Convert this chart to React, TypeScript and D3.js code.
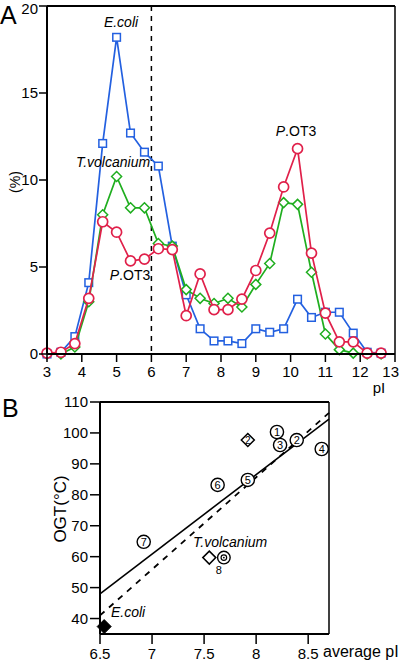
import React from "react";
import * as d3 from "d3";

// ---- Panel A data ----
const pIValues = [3.0, 3.4, 3.8, 4.2, 4.6, 5.0, 5.4, 5.8, 6.2, 6.6, 7.0, 7.4, 7.8, 8.2, 8.6, 9.0, 9.4, 9.8, 10.2, 10.6, 11.0, 11.4, 11.8, 12.2, 12.6];
const ecoli = [0, 0.1, 1.0, 4.1, 12.1, 18.2, 12.7, 11.6, 10.8, 6.2, 3.4, 1.45, 0.75, 0.75, 0.6, 1.45, 1.25, 1.45, 3.15, 2.1, 2.4, 2.4, 1.2, 0.1, 0.05];
const tvolcanium = [0, 0, 0.4, 3.0, 8.0, 10.2, 8.4, 8.4, 6.35, 6.2, 3.7, 3.2, 2.9, 3.2, 2.7, 4.0, 5.2, 8.7, 8.6, 4.7, 1.15, 0.25, 0.05, 0, 0];
const pot3 = [0.05, 0.1, 0.6, 3.2, 7.6, 7.0, 5.35, 5.45, 6.05, 6.0, 2.2, 4.6, 2.55, 2.55, 3.15, 4.8, 6.95, 9.6, 11.8, 5.8, 2.35, 0.7, 0.7, 0.05, 0.05];
const aXTicks = [3, 4, 5, 6, 7, 8, 9, 10, 11, 12, 13];
const aYTicks = [0, 5, 10, 15, 20];

// ---- Panel B data ----
const circleLabels = ["1", "2", "3", "4", "5", "6", "7"];
const circleX = [8.2, 8.39, 8.23, 8.63, 7.92, 7.63, 6.92];
const circleY = [100.3, 97.7, 96.1, 94.8, 84.8, 83.2, 64.8];
const diamond2 = [7.92, 97.7];
const tvolcDiamond = [7.55, 59.7];
const dotCircle8 = [7.69, 59.7];
const ecoliPoint = [6.54, 37.4];
const solidFit = [6.5, 48, 8.7, 104.5];
const dashedFit = [6.5, 41, 8.7, 106.5];
const bXTicks = [6.5, 7, 7.5, 8, 8.5];
const bYTicks = [40, 50, 60, 70, 80, 90, 100, 110];

const BLUE = "#2360e0";
const GREEN = "#1fae1f";
const RED = "#e0204a";
const FONT = "'Liberation Sans', Arial, Helvetica, sans-serif";

export default function App() {
  // Panel A scales
  const ax = d3.scaleLinear().domain([3, 13]).range([47, 395]);
  const ay = d3.scaleLinear().domain([0, 20]).range([354, 6]);
  const mkLine = (vals: number[]) =>
    d3.line<number>().x((_, i) => ax(pIValues[i])).y((v) => ay(v))(vals) || "";

  // Panel B scales
  const bx = d3.scaleLinear().domain([6.5, 8.7]).range([100, 329]);
  const by = d3.scaleLinear().domain([35, 110]).range([634, 402]);

  const diamondPath = (cx: number, cy: number, r: number) =>
    `M${cx},${cy - r}L${cx + r},${cy}L${cx},${cy + r}L${cx - r},${cy}Z`;

  return (
    <svg width={400} height={663} style={{ position: "absolute", left: 0, top: 0, background: "#fff" }} fontFamily={FONT}>
      {/* ===== Panel A ===== */}
      <text x={0} y={24} fontSize={25}>A</text>
      {/* dashed pI=6 line */}
      <line x1={ax(6)} x2={ax(6)} y1={ay(20)} y2={ay(0)} stroke="#000" strokeWidth={1.5} strokeDasharray="5,5" />
      {/* series */}
      <path d={mkLine(ecoli)} fill="none" stroke={BLUE} strokeWidth={1.7} />
      {ecoli.map((v, i) => (
        <rect key={"b" + i} x={ax(pIValues[i]) - 3.8} y={ay(v) - 3.8} width={7.6} height={7.6} fill="#fff" stroke={BLUE} strokeWidth={1.5} />
      ))}
      <path d={mkLine(tvolcanium)} fill="none" stroke={GREEN} strokeWidth={1.7} />
      {tvolcanium.map((v, i) => (
        <path key={"g" + i} d={diamondPath(ax(pIValues[i]), ay(v), 5)} fill="#fff" stroke={GREEN} strokeWidth={1.5} />
      ))}
      <path d={mkLine(pot3)} fill="none" stroke={RED} strokeWidth={1.7} />
      {pot3.map((v, i) => (
        <circle key={"r" + i} cx={ax(pIValues[i])} cy={ay(v)} r={5} fill="#fff" stroke={RED} strokeWidth={1.7} />
      ))}
      {/* frame & axes */}
      <line x1={ax(3)} x2={ax(13)} y1={ay(20)} y2={ay(20)} stroke="#000" strokeWidth={2} />
      <line x1={ax(13)} x2={ax(13)} y1={ay(20)} y2={ay(0)} stroke="#000" strokeWidth={1.5} />
      <line x1={ax(3)} x2={ax(13)} y1={ay(0)} y2={ay(0)} stroke="#000" strokeWidth={2} />
      <line x1={ax(3)} x2={ax(3)} y1={ay(20)} y2={ay(0)} stroke="#000" strokeWidth={2} />
      {aYTicks.map((t) => (
        <g key={"ay" + t}>
          <line x1={ax(3) - 8} x2={ax(3)} y1={ay(t)} y2={ay(t)} stroke="#000" strokeWidth={1.5} />
          <text x={ax(3) - 9} y={Math.max(ay(t) + 5, 14)} fontSize={15} textAnchor="end">{t}</text>
        </g>
      ))}
      {aXTicks.map((t) => (
        <g key={"ax" + t}>
          <line x1={ax(t)} x2={ax(t)} y1={ay(0)} y2={ay(0) + 8} stroke="#000" strokeWidth={1.5} />
          <text x={t === 13 ? 399 : ax(t)} y={377} fontSize={15} textAnchor={t === 13 ? "end" : "middle"}>{t}</text>
        </g>
      ))}
      <text x={379} y={393} fontSize={15} textAnchor="middle">pI</text>
      <text transform={`translate(20,182) rotate(-90)`} fontSize={14} textAnchor="middle">(%)</text>
      {/* labels */}
      <text x={121} y={27} fontSize={14} fontStyle="italic" textAnchor="middle">E.coli</text>
      <text x={113} y={167} fontSize={14} fontStyle="italic" textAnchor="middle">T.volcanium</text>
      <text x={130} y={280} fontSize={14} textAnchor="middle"><tspan fontStyle="italic">P</tspan>.OT3</text>
      <text x={296} y={136} fontSize={14} textAnchor="middle"><tspan fontStyle="italic">P</tspan>.OT3</text>

      {/* ===== Panel B ===== */}
      <text x={2} y={417} fontSize={25}>B</text>
      {/* fit lines */}
      <line x1={bx(solidFit[0])} y1={by(solidFit[1])} x2={bx(solidFit[2])} y2={by(solidFit[3])} stroke="#000" strokeWidth={1.6} />
      <line x1={bx(dashedFit[0])} y1={by(dashedFit[1])} x2={bx(dashedFit[2])} y2={by(dashedFit[3])} stroke="#000" strokeWidth={1.8} strokeDasharray="6,6" />
      {/* numbered circles */}
      {circleLabels.map((lab, i) => (
        <g key={"c" + i}>
          <circle cx={bx(circleX[i])} cy={by(circleY[i])} r={6.6} fill="#fff" stroke="#000" strokeWidth={1.4} />
          <text x={bx(circleX[i])} y={by(circleY[i]) + 4} fontSize={11} textAnchor="middle">{lab}</text>
        </g>
      ))}
      {/* diamond with 2 */}
      <path d={diamondPath(bx(diamond2[0]), by(diamond2[1]), 6.5)} fill="#fff" stroke="#000" strokeWidth={1.5} />
      <text x={bx(diamond2[0])} y={by(diamond2[1]) + 3.5} fontSize={10} textAnchor="middle">2</text>
      {/* T. volcanium */}
      <path d={diamondPath(bx(tvolcDiamond[0]), by(tvolcDiamond[1]), 6.5)} fill="#fff" stroke="#000" strokeWidth={1.5} />
      <circle cx={bx(dotCircle8[0])} cy={by(dotCircle8[1])} r={6.3} fill="#fff" stroke="#000" strokeWidth={1.4} />
      <circle cx={bx(dotCircle8[0])} cy={by(dotCircle8[1])} r={2.8} fill="#fff" stroke="#000" strokeWidth={1.2} />
      <circle cx={bx(dotCircle8[0])} cy={by(dotCircle8[1])} r={0.9} fill="#000" />
      <text x={bx(dotCircle8[0]) - 5} y={by(dotCircle8[1]) + 16} fontSize={11} textAnchor="middle">8</text>
      <text x={193} y={547} fontSize={14} fontStyle="italic">T.volcanium</text>
      {/* E. coli */}
      <path d={diamondPath(bx(ecoliPoint[0]), by(ecoliPoint[1]), 7)} fill="#000" stroke="#000" strokeWidth={1} />
      <text x={111} y={617} fontSize={14} fontStyle="italic">E.coli</text>
      {/* frame & axes */}
      <line x1={bx(6.5)} x2={bx(8.7)} y1={by(110)} y2={by(110)} stroke="#000" strokeWidth={2} />
      <line x1={bx(8.7)} x2={bx(8.7)} y1={by(110)} y2={by(35)} stroke="#000" strokeWidth={1.5} />
      <line x1={bx(6.5)} x2={bx(8.7)} y1={by(35)} y2={by(35)} stroke="#000" strokeWidth={2} />
      <line x1={bx(6.5)} x2={bx(6.5)} y1={by(110)} y2={by(35)} stroke="#000" strokeWidth={2} />
      {bYTicks.map((t) => (
        <g key={"by" + t}>
          <line x1={bx(6.5) - 10} x2={bx(6.5)} y1={by(t)} y2={by(t)} stroke="#000" strokeWidth={1.5} />
          <text x={bx(6.5) - 12} y={by(t) + 5} fontSize={15} textAnchor="end">{t}</text>
        </g>
      ))}
      {bXTicks.map((t) => (
        <g key={"bx" + t}>
          <line x1={bx(t)} x2={bx(t)} y1={by(35)} y2={by(35) + 10} stroke="#000" strokeWidth={1.5} />
          <text x={bx(t)} y={659} fontSize={15} textAnchor="middle">{t}</text>
        </g>
      ))}
      <text x={323} y={657} fontSize={16}>average pI</text>
      <text transform={`translate(66,509) rotate(-90)`} fontSize={17} textAnchor="middle">OGT(°C)</text>
    </svg>
  );
}
